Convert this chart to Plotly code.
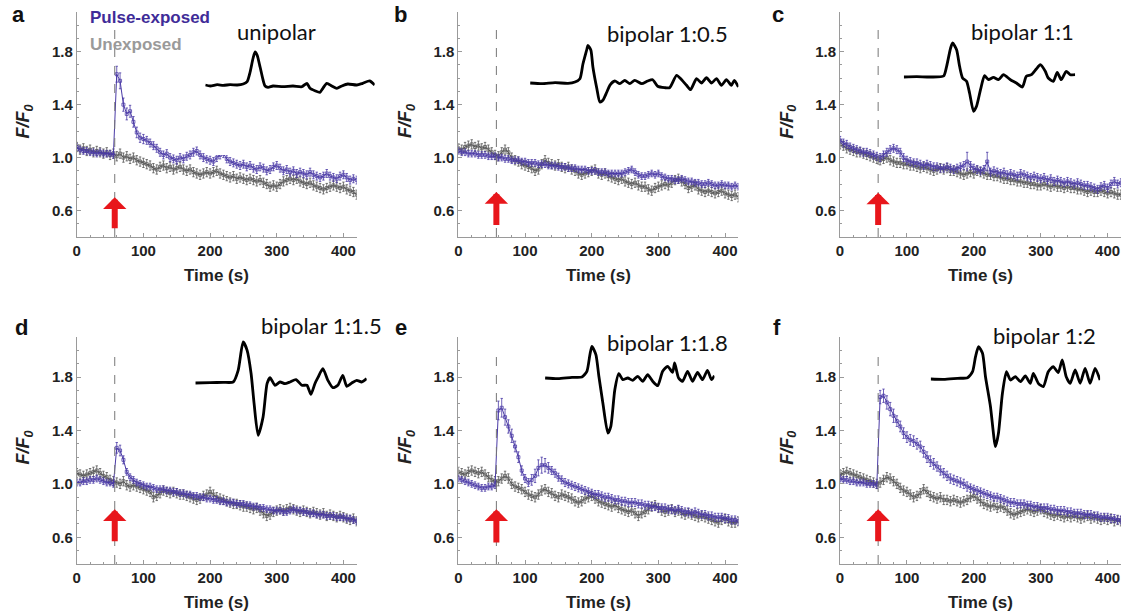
import plotly.graph_objects as go

# time points (s)
time = list(range(0, 421, 5))

# F/F0, pulse-exposed (blue) and unexposed (gray), per panel
a_pulse = [1.08, 1.06, 1.05, 1.05, 1.04, 1.04, 1.03, 1.04, 1.03, 1.03, 1.03, 1.02, 1.63, 1.58, 1.40, 1.33, 1.35,
           1.27, 1.19, 1.15, 1.14, 1.13, 1.11, 1.09, 1.07, 1.04, 1.02, 1.03, 1.00, 0.99, 0.98, 1.00, 0.99, 1.01,
           1.02, 1.04, 1.05, 1.02, 1.00, 0.99, 0.98, 0.97, 1.00, 1.02, 1.03, 0.99, 0.97, 0.96, 0.95, 0.94, 0.95,
           0.93, 0.94, 0.92, 0.91, 0.93, 0.92, 0.90, 0.91, 0.93, 0.94, 0.92, 0.90, 0.91, 0.89, 0.90, 0.88, 0.89,
           0.88, 0.87, 0.89, 0.87, 0.86, 0.85, 0.86, 0.88, 0.86, 0.85, 0.84, 0.86, 0.87, 0.85, 0.83, 0.84, 0.83]
a_ctrl = [1.08, 1.06, 1.07, 1.05, 1.06, 1.04, 1.05, 1.04, 1.03, 1.04, 1.02, 1.03, 1.01, 1.03, 1.00, 1.01, 0.99,
          1.00, 0.98, 0.97, 0.96, 0.95, 0.94, 0.92, 0.91, 0.93, 0.94, 0.92, 0.93, 0.91, 0.92, 0.93, 0.91, 0.90,
          0.91, 0.89, 0.88, 0.87, 0.88, 0.89, 0.88, 0.89, 0.90, 0.88, 0.87, 0.86, 0.85, 0.86, 0.84, 0.85, 0.84,
          0.83, 0.84, 0.83, 0.82, 0.83, 0.81, 0.80, 0.78, 0.79, 0.78, 0.80, 0.82, 0.83, 0.84, 0.83, 0.84, 0.82,
          0.81, 0.80, 0.81, 0.79, 0.78, 0.77, 0.76, 0.77, 0.78, 0.79, 0.78, 0.77, 0.78, 0.76, 0.75, 0.74, 0.72]
b_pulse = [1.05, 1.04, 1.04, 1.03, 1.03, 1.03, 1.02, 1.02, 1.02, 1.01, 1.01, 1.01, 1.00, 1.00, 0.99, 0.99, 0.98,
           0.98, 0.98, 0.97, 0.97, 0.96, 0.96, 0.96, 0.95, 0.95, 0.95, 0.94, 0.94, 0.94, 0.93, 0.93, 0.93, 0.92,
           0.92, 0.92, 0.91, 0.91, 0.91, 0.90, 0.90, 0.90, 0.89, 0.89, 0.89, 0.88, 0.88, 0.88, 0.88, 0.88, 0.89,
           0.90, 0.91, 0.89, 0.87, 0.86, 0.86, 0.87, 0.88, 0.87, 0.88, 0.86, 0.85, 0.84, 0.84, 0.83, 0.83, 0.84,
           0.83, 0.82, 0.82, 0.81, 0.81, 0.80, 0.80, 0.81, 0.80, 0.79, 0.79, 0.80, 0.79, 0.79, 0.78, 0.79, 0.78]
b_ctrl = [1.07, 1.06, 1.08, 1.09, 1.10, 1.08, 1.09, 1.07, 1.08, 1.06, 1.04, 1.02, 1.01, 1.04, 1.06, 1.04, 1.00,
          0.98, 0.97, 0.95, 0.94, 0.93, 0.92, 0.90, 0.91, 0.95, 0.98, 0.96, 0.95, 0.94, 0.95, 0.93, 0.92, 0.93,
          0.91, 0.90, 0.88, 0.87, 0.88, 0.89, 0.90, 0.91, 0.88, 0.87, 0.88, 0.86, 0.85, 0.84, 0.83, 0.84, 0.82,
          0.81, 0.80, 0.81, 0.79, 0.78, 0.78, 0.76, 0.75, 0.77, 0.78, 0.79, 0.80, 0.79, 0.81, 0.83, 0.84, 0.82,
          0.80, 0.77, 0.78, 0.79, 0.76, 0.75, 0.74, 0.75, 0.74, 0.73, 0.74, 0.75, 0.73, 0.72, 0.71, 0.72, 0.70]
c_pulse = [1.13, 1.11, 1.10, 1.08, 1.07, 1.06, 1.05, 1.04, 1.04, 1.03, 1.02, 1.01, 1.00, 1.02, 1.04, 1.06, 1.07,
           1.06, 1.04, 1.00, 0.98, 0.97, 0.96, 0.96, 0.95, 0.94, 0.95, 0.94, 0.93, 0.93, 0.92, 0.92, 0.93, 0.92,
           0.91, 0.92, 0.93, 0.94, 0.97, 0.94, 0.92, 0.91, 0.90, 0.91, 0.97, 0.89, 0.90, 0.89, 0.88, 0.89, 0.87,
           0.88, 0.87, 0.86, 0.88, 0.87, 0.86, 0.85, 0.86, 0.85, 0.84, 0.85, 0.83, 0.84, 0.82, 0.83, 0.82, 0.81,
           0.82, 0.81, 0.80, 0.81, 0.80, 0.79, 0.79, 0.78, 0.77, 0.76, 0.78, 0.79, 0.77, 0.80, 0.82, 0.80, 0.81]
c_ctrl = [1.10, 1.09, 1.07, 1.06, 1.05, 1.04, 1.04, 1.03, 1.02, 1.01, 1.00, 0.99, 0.98, 0.99, 1.00, 0.98, 0.97,
          0.96, 0.96, 0.95, 0.95, 0.94, 0.94, 0.93, 0.92, 0.93, 0.92, 0.91, 0.90, 0.91, 0.92, 0.91, 0.92, 0.90,
          0.90, 0.89, 0.88, 0.87, 0.88, 0.89, 0.88, 0.90, 0.89, 0.88, 0.87, 0.87, 0.86, 0.86, 0.85, 0.84, 0.84,
          0.83, 0.83, 0.82, 0.82, 0.81, 0.81, 0.80, 0.80, 0.79, 0.79, 0.80, 0.79, 0.78, 0.79, 0.78, 0.78, 0.77,
          0.78, 0.77, 0.77, 0.76, 0.76, 0.75, 0.74, 0.75, 0.74, 0.74, 0.75, 0.74, 0.73, 0.74, 0.73, 0.72, 0.72]
d_pulse = [1.01, 1.01, 1.02, 1.02, 1.03, 1.03, 1.04, 1.03, 1.02, 1.01, 1.01, 1.00, 1.27, 1.25, 1.18, 1.09, 1.05,
           1.03, 1.01, 1.00, 0.99, 0.98, 0.98, 0.97, 0.96, 0.96, 0.96, 0.95, 0.95, 0.94, 0.94, 0.93, 0.93, 0.92,
           0.92, 0.91, 0.91, 0.90, 0.90, 0.89, 0.89, 0.88, 0.88, 0.87, 0.87, 0.86, 0.86, 0.86, 0.85, 0.85, 0.85,
           0.84, 0.84, 0.83, 0.83, 0.82, 0.82, 0.81, 0.81, 0.80, 0.80, 0.80, 0.79, 0.79, 0.80, 0.81, 0.80, 0.80,
           0.79, 0.79, 0.78, 0.78, 0.77, 0.77, 0.77, 0.76, 0.76, 0.76, 0.75, 0.75, 0.75, 0.74, 0.74, 0.73, 0.72]
d_ctrl = [1.08, 1.07, 1.06, 1.07, 1.08, 1.09, 1.10, 1.08, 1.06, 1.05, 1.03, 1.02, 1.01, 1.00, 1.02, 0.99, 0.98,
          0.99, 0.98, 0.97, 0.96, 0.95, 0.94, 0.90, 0.91, 0.93, 0.95, 0.94, 0.93, 0.94, 0.93, 0.92, 0.92, 0.91,
          0.90, 0.89, 0.88, 0.89, 0.91, 0.92, 0.94, 0.92, 0.90, 0.89, 0.88, 0.87, 0.86, 0.85, 0.85, 0.84, 0.83,
          0.83, 0.82, 0.81, 0.82, 0.80, 0.78, 0.76, 0.77, 0.79, 0.80, 0.81, 0.80, 0.81, 0.82, 0.81, 0.80, 0.79,
          0.80, 0.79, 0.78, 0.79, 0.78, 0.77, 0.78, 0.76, 0.77, 0.76, 0.75, 0.76, 0.75, 0.74, 0.73, 0.74, 0.72]
e_pulse = [1.04, 1.03, 1.02, 1.01, 1.00, 0.99, 0.98, 0.97, 0.97, 0.98, 0.98, 0.99, 1.55, 1.57, 1.50, 1.43, 1.36,
           1.28, 1.20, 1.10, 1.04, 1.01, 1.03, 1.06, 1.12, 1.14, 1.14, 1.12, 1.10, 1.08, 1.05, 1.03, 1.01, 1.00,
           0.99, 0.98, 0.97, 0.96, 0.95, 0.94, 0.93, 0.92, 0.92, 0.91, 0.90, 0.90, 0.89, 0.88, 0.88, 0.87, 0.87,
           0.86, 0.86, 0.86, 0.85, 0.85, 0.84, 0.84, 0.83, 0.83, 0.82, 0.82, 0.82, 0.81, 0.81, 0.80, 0.81, 0.80,
           0.79, 0.79, 0.78, 0.79, 0.78, 0.77, 0.77, 0.76, 0.76, 0.75, 0.75, 0.75, 0.74, 0.74, 0.73, 0.73, 0.72]
e_ctrl = [1.09, 1.08, 1.07, 1.09, 1.10, 1.09, 1.08, 1.09, 1.07, 1.05, 1.03, 1.02, 1.02, 1.04, 1.06, 1.04, 1.00,
          0.98, 0.97, 0.96, 0.94, 0.92, 0.91, 0.90, 0.92, 0.95, 0.96, 0.94, 0.93, 0.91, 0.90, 0.92, 0.91, 0.90,
          0.89, 0.87, 0.86, 0.87, 0.89, 0.90, 0.91, 0.89, 0.87, 0.86, 0.85, 0.84, 0.83, 0.84, 0.82, 0.81, 0.80,
          0.79, 0.80, 0.78, 0.76, 0.78, 0.79, 0.81, 0.83, 0.84, 0.82, 0.80, 0.79, 0.80, 0.81, 0.79, 0.80, 0.78,
          0.77, 0.78, 0.77, 0.76, 0.75, 0.76, 0.75, 0.74, 0.73, 0.72, 0.71, 0.73, 0.74, 0.72, 0.71, 0.71, 0.72]
f_pulse = [1.04, 1.03, 1.03, 1.02, 1.02, 1.01, 1.01, 1.01, 1.00, 1.00, 1.00, 0.99, 1.65, 1.66, 1.61, 1.56, 1.51,
           1.47, 1.43, 1.38, 1.35, 1.33, 1.32, 1.30, 1.28, 1.24, 1.20, 1.17, 1.15, 1.13, 1.10, 1.08, 1.06, 1.04,
           1.03, 1.02, 1.01, 1.00, 0.98, 0.97, 0.96, 0.95, 0.94, 0.93, 0.92, 0.91, 0.90, 0.90, 0.89, 0.88, 0.87,
           0.86, 0.86, 0.85, 0.85, 0.85, 0.84, 0.84, 0.83, 0.83, 0.82, 0.82, 0.82, 0.81, 0.81, 0.80, 0.80, 0.80,
           0.79, 0.79, 0.78, 0.78, 0.78, 0.77, 0.77, 0.77, 0.76, 0.76, 0.75, 0.75, 0.75, 0.74, 0.74, 0.73, 0.73]
f_ctrl = [1.07, 1.08, 1.09, 1.08, 1.07, 1.06, 1.05, 1.04, 1.03, 1.02, 1.01, 1.00, 1.01, 1.03, 1.05, 1.04, 1.02,
          1.00, 0.97, 0.95, 0.94, 0.92, 0.90, 0.91, 0.93, 0.96, 0.94, 0.91, 0.90, 0.89, 0.90, 0.88, 0.88, 0.87,
          0.88, 0.87, 0.86, 0.87, 0.88, 0.90, 0.91, 0.89, 0.87, 0.85, 0.84, 0.83, 0.84, 0.82, 0.83, 0.82, 0.80,
          0.78, 0.77, 0.78, 0.79, 0.80, 0.81, 0.80, 0.79, 0.80, 0.81, 0.79, 0.78, 0.77, 0.76, 0.77, 0.76, 0.75,
          0.76, 0.75, 0.76, 0.75, 0.74, 0.75, 0.76, 0.74, 0.75, 0.74, 0.73, 0.74, 0.73, 0.74, 0.72, 0.73, 0.72]

# error bars (SEM)
a_pulse_err = [0.025] * 12 + [0.06, 0.06, 0.05, 0.045, 0.045, 0.04, 0.04, 0.035, 0.035, 0.03, 0.03, 0.03] + [0.03] * 61
c_pulse_err = [0.03] * 38 + [0.07] + [0.03] * 5 + [0.07] + [0.03] * 40
d_pulse_err = [0.025] * 12 + [0.04, 0.04, 0.03] + [0.025] * 70
e_pulse_err = [0.025] * 12 + [0.07, 0.07, 0.06, 0.05, 0.05, 0.04, 0.04, 0.035, 0.03, 0.03,
                              0.04, 0.05, 0.06, 0.06, 0.05, 0.04, 0.03] + [0.03] * 56
f_pulse_err = [0.025] * 12 + [0.05] * 5 + [0.04] * 12 + [0.035] * 10 + [0.03] * 46
pulse_err = [a_pulse_err, 0.025, c_pulse_err, d_pulse_err, e_pulse_err, f_pulse_err]
ctrl_err = [0.035, 0.035, 0.035, 0.035, 0.035, 0.035]

pulse = [a_pulse, b_pulse, c_pulse, d_pulse, e_pulse, f_pulse]
ctrl = [a_ctrl, b_ctrl, c_ctrl, d_ctrl, e_ctrl, f_ctrl]

letters = ['a', 'b', 'c', 'd', 'e', 'f']
waveform_names = ['unipolar', 'bipolar 1:0.5', 'bipolar 1:1', 'bipolar 1:1.5', 'bipolar 1:1.8', 'bipolar 1:2']
pulse_time = 57
arrow_tip = [0.70, 0.74, 0.735, 0.81, 0.81, 0.81]
arrow_base = [0.455, 0.48, 0.48, 0.56, 0.55, 0.56]

# applied pulse waveforms (arbitrary time / amplitude units)
wave_t = [
    [0, 5, 12, 18, 25, 32, 38, 42, 45, 48, 50, 52, 55, 58, 60, 63, 68, 78, 88, 97, 102, 105, 110, 115,
     118, 122, 127, 132, 137, 143, 152, 158, 165, 170],
    [0, 12, 25, 38, 45, 50, 53, 57, 58, 61, 63, 67, 70, 73, 77, 80, 85, 90, 95, 100, 105, 112, 118, 123,
     128, 135, 140, 147, 152, 157, 161, 167, 172, 177, 182, 187, 192, 197, 202, 205, 209],
    [0, 13, 27, 40, 43, 47, 49, 53, 56, 59, 63, 66, 70, 73, 77, 81, 85, 90, 95, 100, 107, 113, 119, 123,
     128, 133, 137, 142, 145, 150, 154, 158, 163, 167, 172],
    [0, 15, 28, 38, 43, 48, 52, 56, 59, 63, 68, 72, 75, 80, 85, 90, 95, 101, 107, 112, 116, 120, 123, 128,
     133, 138, 143, 148, 152, 157, 162, 167, 172],
    [0, 13, 27, 37, 42, 45, 47, 51, 54, 58, 63, 66, 70, 74, 78, 83, 88, 93, 98, 103, 108, 113, 118, 123,
     128, 130, 134, 138, 143, 148, 153, 158, 163, 167, 170],
    [0, 13, 27, 37, 42, 45, 48, 52, 55, 60, 65, 68, 72, 76, 80, 85, 90, 95, 100, 103, 108, 113, 118, 123,
     128, 132, 136, 140, 145, 150, 155, 160, 165, 170],
]
wave_v = [
    [0, -1, 0.3, -0.3, 0.3, 0, 1, 3.3, 13, 27, 33, 30, 18, 5, -1, -2.3, -1, -1.7, -1, -1.7, 1.7, -3.3, -5.7,
     -7.3, -3.3, 1.7, -1, -3.3, -1, 1, 0, 1.7, 4, 0],
    [0, -0.7, 0.3, -0.3, 1, 4.3, 19, 34, 37.7, 32.7, 16, -5.7, -19, -17.3, -9, -2.3, 2, -0.7, 2.7, -0.7, 2.7,
     -0.7, 2, 3.3, -3.3, -4.7, -4.7, 7.7, 3.3, -2.3, -6.7, 4.3, 0, 5.3, 0, 4.3, -2.3, 3.3, -2.3, 2.7, -4],
    [0, 0.3, 0, 1, 10.7, 29, 34, 27.3, 10.7, -1, -4.3, -16, -34.3, -29.3, -12.7, 1.3, -2.7, -0.3, -2.7, 2.3,
     -2.7, -6, -10, 0.7, 2.3, 8, 12.3, 5.7, -1, -4.3, 4.7, -2.7, 5.7, 2.3, 2.3],
    [0, 0.3, 0.7, 1, 12.7, 41, 32.7, 9.3, -20.7, -52.3, -34, -0.7, 5.3, -2.3, 1, -0.7, 1, 3.3, -2.3, -2.3,
     -11.3, -0.7, 5.3, 14.3, 2.7, -4.7, -2.3, 7.7, -3.3, 0, 2.7, 1, 4.3],
    [0, -0.7, 0.7, 1, 6.7, 23.3, 31.7, 23.3, 1.7, -25, -55, -48.3, -11.7, 4.3, -1.7, 0, -2.3, 1.7, -3.3, 3.3,
     -3.3, -7.7, 6.7, 11.7, 5.7, 15, 0, -3.3, 6.7, -3.3, 5.7, -1.7, 7.7, -1.7, 2.3],
    [0, -0.3, 0.7, 1.3, 7.3, 22.3, 32.3, 25.7, 2.3, -27.7, -67.7, -54.3, -14.3, 7.3, -1, 2.3, -2.7, 3, -4.3,
     5.7, -4.3, -7.7, 7.3, 12.3, 6.3, 19, 2.3, -4.3, 9, -4.3, 10.7, -4.3, 10.7, -1],
]

W, H = 1124, 614
BLUE = '#4a3aa6'
GRAY = '#555555'
AXC = '#9a9a9a'
TXT = '#222222'
FONT = 'Liberation Sans'

# panel boxes in pixels (left, right) / (top, bottom)
col_px = [(73, 354), (456, 737), (839, 1121)]
row_px = [(12, 237), (337, 564)]
# inset boxes: left x, baseline y (pixels)
inset_px = [(202, 85), (528, 83), (903, 77), (192, 383), (543, 378), (930, 379)]
inset_w = [170, 209, 172, 172, 170, 170]
# waveform label centers (pixels)
label_px = [(273, 31), (666, 33), (1022, 31), (319, 325), (666, 342), (1044, 335)]
letter_px = [(15, 14), (398, 14), (777, 14), (18, 327), (398, 327), (776, 327)]


def px_x(x):
    return x / W


def px_y(y):
    return 1 - y / H


def ax_id(n):
    s = '' if n == 1 else str(n)
    return 'x' + s, 'y' + s


def label(x, y, text, size, color=TXT, family=FONT, weight='bold', **kw):
    return dict(x=px_x(x), y=px_y(y), xref='paper', yref='paper', text=text, showarrow=False,
                xanchor=kw.pop('xanchor', 'center'), yanchor='middle',
                font=dict(size=size, family=family, weight=weight, color=color), **kw)


fig = go.Figure()
layout = dict(
    width=W, height=H, margin=dict(l=0, r=0, t=0, b=0),
    paper_bgcolor='white', plot_bgcolor='white', showlegend=False,
    font=dict(family=FONT, color=TXT),
)
shapes = []
annotations = []

for i in range(6):
    n = i + 1
    r, c = divmod(i, 3)
    x0, x1 = col_px[c]
    y0, y1 = row_px[r]
    xa, ya = ax_id(n)
    key = '' if n == 1 else str(n)
    layout['xaxis' + key] = dict(
        domain=[px_x(x0), px_x(x1)], range=[0, 420], anchor=ya,
        showline=True, linecolor=AXC, linewidth=1, showgrid=False, zeroline=False,
        ticks='inside', ticklen=4, tickcolor=AXC, tickvals=[0, 100, 200, 300, 400],
        minor=dict(dtick=20, ticks='inside', ticklen=2, tickcolor=AXC),
        tickfont=dict(size=15, family=FONT, weight='bold', color=TXT),
    )
    layout['yaxis' + key] = dict(
        domain=[px_y(y1), px_y(y0)], range=[0.4, 2.1], anchor=xa,
        showline=True, linecolor=AXC, linewidth=1, showgrid=False, zeroline=False,
        ticks='inside', ticklen=4, tickcolor=AXC, tickvals=[0.6, 1.0, 1.4, 1.8], tickformat='.1f',
        minor=dict(dtick=0.1, ticks='inside', ticklen=2, tickcolor=AXC),
        tickfont=dict(size=15, family=FONT, weight='bold', color=TXT),
    )

    for ys, err, color in [(ctrl[i], ctrl_err[i], GRAY), (pulse[i], pulse_err[i], BLUE)]:
        if isinstance(err, list):
            ed = dict(type='data', array=err, visible=True)
        else:
            ed = dict(type='constant', value=err, visible=True)
        ed.update(color=color, thickness=0.8, width=1.2)
        fig.add_trace(go.Scatter(
            x=time, y=ys, mode='lines+markers', xaxis=xa, yaxis=ya,
            line=dict(color=color, width=1),
            marker=dict(symbol='square-open', size=3, color=color, line=dict(width=0.8, color=color)),
            error_y=ed,
        ))

    # pulse onset
    shapes.append(dict(type='line', xref=xa, yref=f'{ya} domain', x0=pulse_time, x1=pulse_time,
                       y0=0, y1=0.93, line=dict(color='#777777', width=1, dash='dash')))
    annotations.append(dict(x=pulse_time, y=arrow_tip[i], xref=xa, yref=ya,
                            ax=pulse_time, ay=arrow_base[i], axref=xa, ayref=ya,
                            showarrow=True, arrowhead=1, arrowsize=0.65, arrowwidth=6,
                            arrowcolor='#e8161b', text=''))

    # axis titles
    annotations.append(label((x0 + x1) / 2, y1 + 38, 'Time (s)', 17))
    annotations.append(label(x0 - 52, (y0 + y1) / 2 - 3, '<i>F/F<sub>0</sub></i>', 18, textangle=-90))
    # panel letter
    lx, ly = letter_px[i]
    annotations.append(label(lx, ly, letters[i], 22, color='#111111'))

    # inset waveform
    m = i + 7
    bx, by = inset_px[i]
    layout[f'xaxis{m}'] = dict(domain=[px_x(bx), px_x(bx + inset_w[i])], range=[0, inset_w[i]],
                               anchor=f'y{m}', visible=False, fixedrange=True)
    layout[f'yaxis{m}'] = dict(domain=[px_y(by + 70), px_y(by - 45)], range=[-70, 45],
                               anchor=f'x{m}', visible=False, fixedrange=True)
    fig.add_trace(go.Scatter(x=wave_t[i], y=wave_v[i], mode='lines', xaxis=f'x{m}', yaxis=f'y{m}',
                             line=dict(color='black', width=2.8, shape='spline', smoothing=0.6)))
    tx, ty = label_px[i]
    annotations.append(label(tx, ty, waveform_names[i], 22, color='#111111', family='Lato', weight='normal'))

# legend text in panel a
annotations.append(label(84, 17, 'Pulse-exposed', 17, color='#3f2c98', xanchor='left'))
annotations.append(label(84, 44, 'Unexposed', 17, color='#9a9a9a', xanchor='left'))

layout['shapes'] = shapes
layout['annotations'] = annotations
fig.update_layout(**layout)
# page body margin off so the 1124x614 figure fills the window exactly
fig.write_html('out.html', config={'displayModeBar': False},
               post_script="document.body.style.margin='0';document.body.style.overflow='hidden';")
